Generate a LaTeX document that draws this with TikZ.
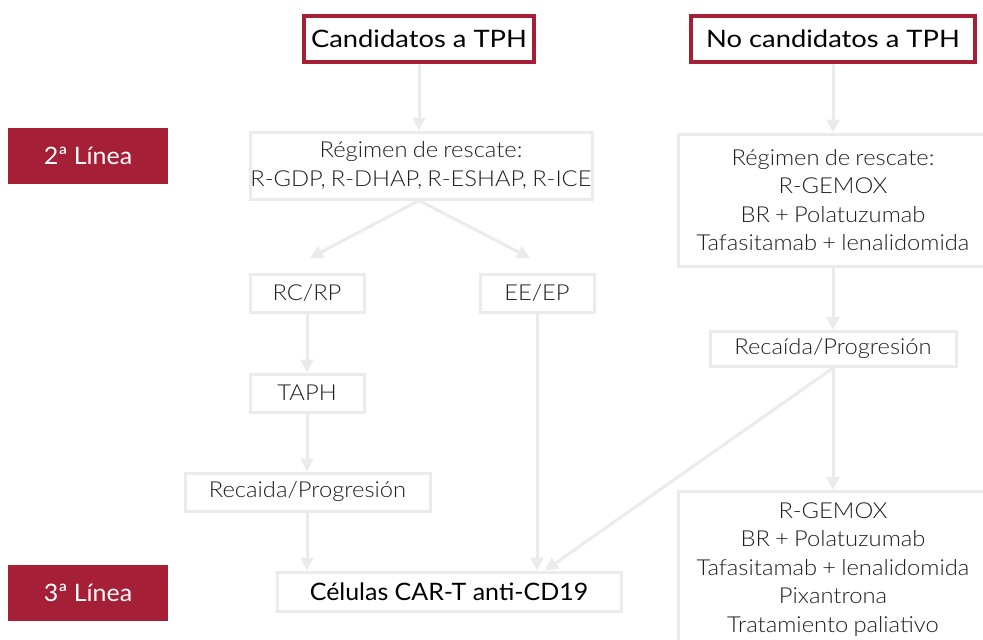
\documentclass[tikz,border=0pt]{standalone}
\usepackage{fontspec}
\setmainfont{Lato}
\newfontfamily\lightfont{Lato Light}[FakeStretch=1.08, WordSpace=0.8]
\newfontfamily\hdrfont{Lato}[FakeStretch=1.14]
\newfontfamily\lblfont{Lato}[FakeStretch=1.04]
\usetikzlibrary{arrows.meta,calc}
\definecolor{brandred}{HTML}{A51F36}
\definecolor{linegray}{HTML}{EBEBEB}
\definecolor{textgray}{HTML}{1F1F1F}
\begin{document}
\begin{tikzpicture}[x=1pt,y=-1pt,
  conn/.style={draw=linegray, line width=3pt, -{Triangle[width=13pt,length=13pt]}},
  hdr/.style={draw=brandred, line width=4.5pt, fill=white, inner sep=0pt, font=\hdrfont\fontsize{24}{28}\selectfont, text=black},
  lvl/.style={fill=brandred, inner sep=0pt, text=white, font=\lblfont\fontsize{24}{28}\selectfont},
  gbox/.style={draw=linegray, line width=3pt, fill=white, inner sep=0pt, align=center, font=\lightfont\fontsize{22}{28.5}\selectfont, text=textgray},
  bbox/.style={draw=linegray, line width=3pt, fill=white, inner sep=0pt, font=\lblfont\fontsize{24}{28}\selectfont, text=black},
]
\useasboundingbox (0,0) rectangle (983,640);
\clip (0,0) rectangle (983,640);

% headers
\node[hdr, minimum width=230pt, minimum height=46pt] (cand) at (419,39) {Candidatos a TPH};
\node[hdr, minimum width=284pt, minimum height=46pt] (nocand) at (833,39) {No candidatos a TPH};

% level labels
\node[lvl, minimum width=160pt, minimum height=56pt] (l2) at (88,156) {2ª Línea};
\node[lvl, minimum width=160pt, minimum height=56pt] (l3) at (88,593) {3ª Línea};

% left branch
\node[gbox, minimum width=342pt, minimum height=67pt] (reg1) at (421,165.5) {Régimen de rescate:\\R-GDP, R-DHAP, R-ESHAP, R-ICE};
\node[gbox, minimum width=114pt, minimum height=38pt] (rcrp) at (307,293) {RC/RP};
\node[gbox, minimum width=114pt, minimum height=38pt] (eeep) at (537,293) {EE/EP};
\node[gbox, minimum width=114pt, minimum height=38pt] (taph) at (307,393) {TAPH};
\node[gbox, minimum width=245pt, minimum height=38pt] (rec1) at (307.5,492) {Recaida/Progresión};
\node[bbox, minimum width=344pt, minimum height=39pt] (cart) at (449,591.5) {Células CAR-T anti-CD19};

% right branch
\node[gbox, minimum width=310pt, minimum height=132pt] (reg2) at (833,200) {Régimen de rescate:\\R-GEMOX\\BR + Polatuzumab\\Tafasitamab + lenalidomida};
\node[gbox, minimum width=246pt, minimum height=35pt] (rec2) at (833,349) {Recaída/Progresión};
\node[gbox, minimum width=310pt, anchor=north, inner ysep=11pt] (last) at (833,490) {R-GEMOX\\BR + Polatuzumab\\Tafasitamab + lenalidomida\\Pixantrona\\Tratamiento paliativo\\[4pt]};

% free ends of the diverging arrows
\coordinate (a1) at (310,258);
\coordinate (a2) at (530,258);

% connectors
\draw[conn] (cand.south) -- (cand.south |- reg1.north);
\draw[conn] (nocand.south) -- (reg2.north);
\draw[conn] (cand.south |- reg1.south) -- (a1);
\draw[conn] (cand.south |- reg1.south) -- (a2);
\draw[conn] (rcrp.south) -- (taph.north);
\draw[conn] (taph.south) -- (taph.south |- rec1.north);
\draw[conn] (taph.south |- rec1.south) -- (taph.south |- cart.north);
\draw[conn] (eeep.south) -- (eeep.south |- cart.north);
\draw[conn] (reg2.south) -- (rec2.north);
\draw[conn] (rec2.south) -- (last.north);
\draw[conn] (rec2.south) -- ($(cart.north)+(96,0)$);
\end{tikzpicture}
\end{document}
